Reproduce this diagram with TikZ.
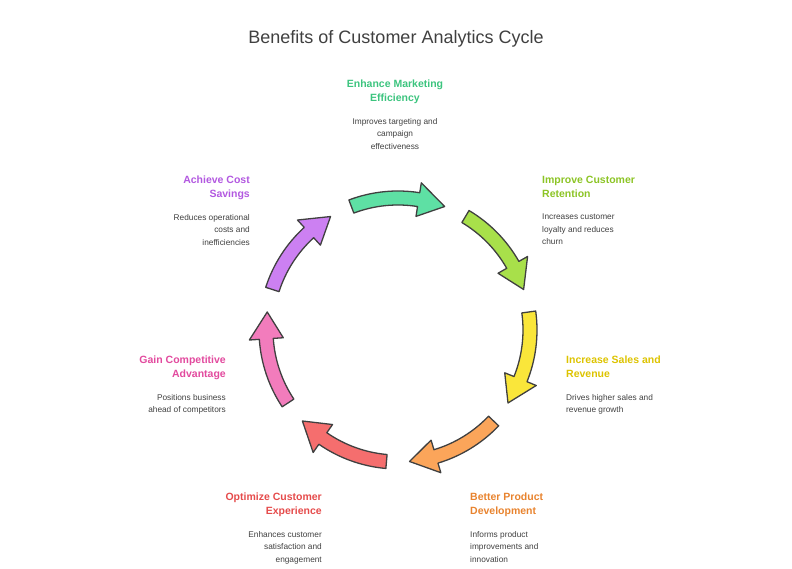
\documentclass[tikz,border=0pt]{standalone}
\usepackage{fontspec}
\setmainfont{Liberation Sans}
\begin{document}
\begin{tikzpicture}[x=1pt,y=1pt,
  hd/.style={font=\fontsize{10.5}{14}\selectfont\bfseries, align=#1, inner sep=0pt},
  ds/.style={font=\fontsize{8.3}{12.5}\selectfont, text=black!75, align=#1, inner sep=0pt}]
\useasboundingbox (0,0) rectangle (792,569);
\definecolor{cA}{HTML}{5EE0A4}\definecolor{tA}{HTML}{3CC47E}
\definecolor{cB}{HTML}{A8E04A}\definecolor{tB}{HTML}{8CC425}
\definecolor{cC}{HTML}{FAE63A}\definecolor{tC}{HTML}{DDC300}
\definecolor{cD}{HTML}{FBA55A}\definecolor{tD}{HTML}{E8832E}
\definecolor{cE}{HTML}{F56E6E}\definecolor{tE}{HTML}{E54B4B}
\definecolor{cF}{HTML}{F27CBC}\definecolor{tF}{HTML}{E24A9E}
\definecolor{cG}{HTML}{CC80F2}\definecolor{tG}{HTML}{B258E0}
\coordinate (c) at (398,239);
\newcommand{\cyc}[2]{%
 \pgfmathsetmacro{\aa}{#1+20.7}\pgfmathsetmacro{\bb}{#1-20.7}\pgfmathsetmacro{\hh}{#1-9}%
 \filldraw[fill=#2, draw=black!75, line width=1.3pt, line join=round, shift={(c)}]
  (\aa:139) arc[start angle=\aa, end angle=\hh, radius=139] -- (\hh:149) -- (\bb:132)
  -- (\hh:115) -- (\hh:125) arc[start angle=\hh, end angle=\aa, radius=125] -- cycle;}
\cyc{90}{cA}\cyc{38.57}{cB}\cyc{-12.86}{cC}\cyc{-64.29}{cD}\cyc{-115.71}{cE}\cyc{-167.14}{cF}\cyc{141.43}{cG}
\node[font=\fontsize{18}{20}\selectfont, text=black!75] (title) at (396,530) {Benefits of Customer Analytics Cycle};
\node[hd=center, text=tA, anchor=north] (hA) at (395,489) {Enhance Marketing\\Efficiency};
\node[ds=center, anchor=north] (dA) at (395,451) {Improves targeting and\\campaign\\effectiveness};
\node[hd=left, text=tB, anchor=north west] (hB) at (542,393) {Improve Customer\\Retention};
\node[ds=left, anchor=north west] (dB) at (542,355) {Increases customer\\loyalty and reduces\\churn};
\node[hd=left, text=tC, anchor=north west] (hC) at (566,213) {Increase Sales and\\Revenue};
\node[ds=left, anchor=north west] (dC) at (566,175) {Drives higher sales and\\revenue growth};
\node[hd=left, text=tD, anchor=north west] (hD) at (470,76) {Better Product\\Development};
\node[ds=left, anchor=north west] (dD) at (470,38) {Informs product\\improvements and\\innovation};
\node[hd=right, text=tE, anchor=north east] (hE) at (322,76) {Optimize Customer\\Experience};
\node[ds=right, anchor=north east] (dE) at (322,38) {Enhances customer\\satisfaction and\\engagement};
\node[hd=right, text=tF, anchor=north east] (hF) at (226,213) {Gain Competitive\\Advantage};
\node[ds=right, anchor=north east] (dF) at (226,175) {Positions business\\ahead of competitors};
\node[hd=right, text=tG, anchor=north east] (hG) at (250,393) {Achieve Cost\\Savings};
\node[ds=right, anchor=north east] (dG) at (250,355) {Reduces operational\\costs and\\inefficiencies};
\end{tikzpicture}
\end{document}
